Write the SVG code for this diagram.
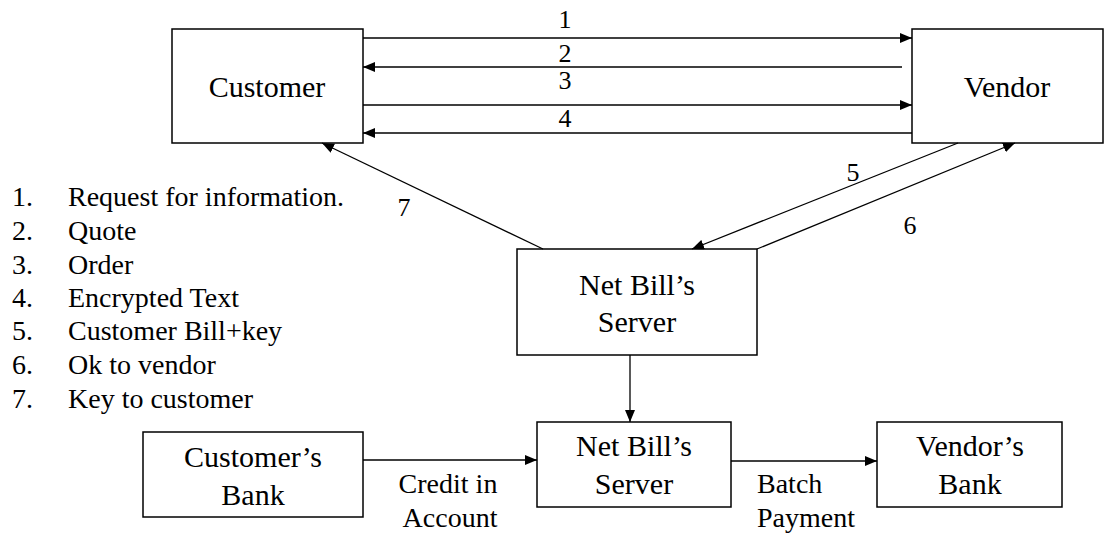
<svg xmlns="http://www.w3.org/2000/svg" width="1117" height="533" viewBox="0 0 1117 533" font-family="'Liberation Serif', 'Times New Roman', 'DejaVu Serif', serif">
<style>
.box{fill:#fff;stroke:#000;stroke-width:1.5}
.ln{fill:none;stroke:#000;stroke-width:1.3}
.arr{marker-end:url(#ah)}
text{font-family:'Liberation Serif','Times New Roman','DejaVu Serif',serif;fill:#000}
.nl{font-size:30px;text-anchor:middle}
.lt{font-size:28px}
.num{font-size:26px;text-anchor:middle}
</style>
<defs>
<marker id="ah" viewBox="0 0 12 10" refX="12" refY="5" markerWidth="12" markerHeight="10" markerUnits="userSpaceOnUse" orient="auto">
<path d="M0,0 L12,5 L0,10 Z" fill="#000"/>
</marker>
</defs>
<rect width="1117" height="533" fill="#fff"/>

<g id="customer"><rect class="box" x="172" y="29" width="191" height="114"/><text class="nl" x="267" y="97" font-family="Liberation Serif, serif">Customer</text></g>
<g id="vendor"><rect class="box" x="912" y="29" width="191" height="114"/><text class="nl" x="1007" y="97" font-family="Liberation Serif, serif">Vendor</text></g>
<g id="netbill-top"><rect class="box" x="517" y="249" width="240" height="106"/><text class="nl" x="637" y="295" font-family="Liberation Serif, serif">Net Bill’s</text><text class="nl" x="637" y="332" font-family="Liberation Serif, serif">Server</text></g>
<g id="customers-bank"><rect class="box" x="143" y="432" width="220" height="85"/><text class="nl" x="253" y="467" font-family="Liberation Serif, serif">Customer’s</text><text class="nl" x="253" y="505" font-family="Liberation Serif, serif">Bank</text></g>
<g id="netbill-bottom"><rect class="box" x="537" y="422" width="194" height="85"/><text class="nl" x="634" y="456" font-family="Liberation Serif, serif">Net Bill’s</text><text class="nl" x="634" y="494" font-family="Liberation Serif, serif">Server</text></g>
<g id="vendors-bank"><rect class="box" x="877" y="422" width="185" height="85"/><text class="nl" x="970" y="456" font-family="Liberation Serif, serif">Vendor’s</text><text class="nl" x="970" y="494" font-family="Liberation Serif, serif">Bank</text></g>

<g id="connectors">
<line class="ln arr" x1="363" y1="38" x2="912" y2="38"/>
<line class="ln arr" x1="902" y1="67" x2="363" y2="67"/>
<line class="ln arr" x1="363" y1="105" x2="912" y2="105"/>
<line class="ln arr" x1="912" y1="133" x2="363" y2="133"/>
<line class="ln arr" x1="543" y1="249" x2="322" y2="143"/>
<line class="ln arr" x1="958" y1="143" x2="692" y2="249"/>
<line class="ln arr" x1="757" y1="249" x2="1015" y2="143"/>
<line class="ln arr" x1="630" y1="355" x2="630" y2="422"/>
<line class="ln arr" x1="363" y1="460" x2="537" y2="460"/>
<line class="ln arr" x1="731" y1="461" x2="877" y2="461"/>
<text class="num" x="565" y="28">1</text>
<text class="num" x="565" y="62">2</text>
<text class="num" x="565" y="89">3</text>
<text class="num" x="565" y="127">4</text>
<text class="num" x="853" y="181" font-size="28">5</text>
<text class="num" x="910" y="234" font-size="28">6</text>
<text class="num" x="404" y="216" font-size="28">7</text>
<text class="lt" x="448" y="493" text-anchor="middle">Credit in</text>
<text class="lt" x="450" y="527" text-anchor="middle">Account</text>
<text class="lt" x="757" y="493">Batch</text>
<text class="lt" x="757" y="527">Payment</text>
</g>

<g id="legend" class="lt">
<text x="12" y="206">1.</text><text x="68" y="206">Request for information.</text>
<text x="12" y="240">2.</text><text x="68" y="240">Quote</text>
<text x="12" y="274">3.</text><text x="68" y="274">Order</text>
<text x="12" y="307">4.</text><text x="68" y="307">Encrypted Text</text>
<text x="12" y="340">5.</text><text x="68" y="340">Customer Bill+key</text>
<text x="12" y="374">6.</text><text x="68" y="374">Ok to vendor</text>
<text x="12" y="408">7.</text><text x="68" y="408">Key to customer</text>
</g>
</svg>
